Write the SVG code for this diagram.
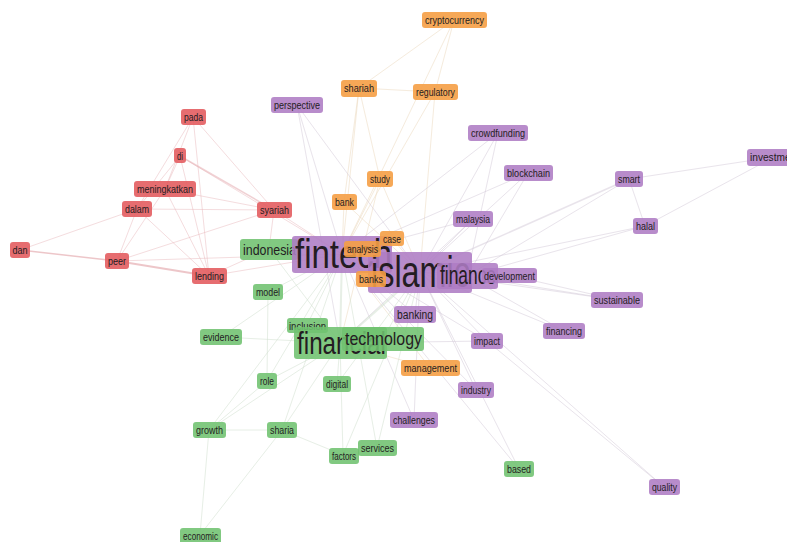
<svg xmlns="http://www.w3.org/2000/svg" width="787" height="542" viewBox="0 0 787 542">
<style>
text{font-family:"Liberation Sans",Arial,sans-serif;fill:#241c22}
.s{font-size:10.5px}
.r{fill:#e35d60;fill-opacity:.9}
.g{fill:#6fc16f;fill-opacity:.88}
.p{fill:#ae7cc4;fill-opacity:.88}
.o{fill:#f59f45;fill-opacity:.9}
.er line{stroke:#e8b4b8;stroke-width:1;opacity:.45}
.eo line{stroke:#eedcc2;stroke-width:1;opacity:.55}
.ep line{stroke:#d4cad9;stroke-width:1;opacity:.5}
.eg line{stroke:#d4e2d2;stroke-width:1;opacity:.55}
</style>
<rect width="787" height="542" fill="#ffffff"/>
<g id="connectors">
<g class="er">
<line x1="20" y1="250" x2="117" y2="261" style="stroke-width:1.5;opacity:.75"/>
<line x1="117" y1="261" x2="209" y2="276" style="stroke-width:2;opacity:.75"/>
<line x1="20" y1="250" x2="137" y2="209"/>
<line x1="193" y1="117" x2="274" y2="210"/>
<line x1="180" y1="156" x2="274" y2="210" style="stroke-width:1.5;opacity:.6"/>
<line x1="193" y1="117" x2="165" y2="189"/>
<line x1="180" y1="156" x2="165" y2="189"/>
<line x1="180" y1="156" x2="209" y2="276"/>
<line x1="193" y1="117" x2="209" y2="276"/>
<line x1="165" y1="189" x2="274" y2="210"/>
<line x1="137" y1="209" x2="274" y2="210"/>
<line x1="165" y1="189" x2="209" y2="276"/>
<line x1="137" y1="209" x2="209" y2="276"/>
<line x1="137" y1="209" x2="117" y2="261"/>
<line x1="117" y1="261" x2="274" y2="210"/>
<line x1="274" y1="210" x2="342" y2="254"/>
<line x1="274" y1="210" x2="269" y2="249"/>
<line x1="209" y1="276" x2="342" y2="254"/>
<line x1="117" y1="261" x2="342" y2="254"/>
<line x1="209" y1="276" x2="269" y2="249"/>
<line x1="180" y1="156" x2="137" y2="209"/>
<line x1="193" y1="117" x2="137" y2="209"/>
<line x1="165" y1="189" x2="117" y2="261"/>
<line x1="180" y1="156" x2="342" y2="254"/>
</g>
<g class="eo">
<line x1="454" y1="20" x2="359" y2="88"/>
<line x1="454" y1="20" x2="435" y2="92"/>
<line x1="359" y1="88" x2="435" y2="92"/>
<line x1="359" y1="88" x2="380" y2="179"/>
<line x1="359" y1="88" x2="342" y2="254"/>
<line x1="435" y1="92" x2="342" y2="254"/>
<line x1="435" y1="92" x2="420" y2="272"/>
<line x1="380" y1="179" x2="342" y2="254"/>
<line x1="380" y1="179" x2="420" y2="272"/>
<line x1="344" y1="202" x2="420" y2="272"/>
<line x1="344" y1="202" x2="342" y2="254"/>
<line x1="392" y1="238" x2="420" y2="272"/>
<line x1="430" y1="368" x2="342" y2="254"/>
<line x1="430" y1="368" x2="340" y2="343"/>
<line x1="359" y1="88" x2="344" y2="202"/>
<line x1="454" y1="20" x2="342" y2="254"/>
<line x1="380" y1="179" x2="340" y2="343"/>
</g>
<g class="ep">
<line x1="297" y1="105" x2="342" y2="254"/>
<line x1="297" y1="105" x2="420" y2="272"/>
<line x1="297" y1="105" x2="340" y2="343"/>
<line x1="498" y1="133" x2="342" y2="254"/>
<line x1="498" y1="133" x2="420" y2="272"/>
<line x1="528" y1="173" x2="342" y2="254"/>
<line x1="528" y1="173" x2="420" y2="272"/>
<line x1="473" y1="219" x2="420" y2="272"/>
<line x1="473" y1="219" x2="342" y2="254"/>
<line x1="629" y1="179" x2="774" y2="157"/>
<line x1="645" y1="226" x2="774" y2="157"/>
<line x1="629" y1="179" x2="645" y2="226"/>
<line x1="629" y1="179" x2="420" y2="272" style="stroke-width:1.5"/>
<line x1="629" y1="179" x2="467" y2="276"/>
<line x1="645" y1="226" x2="420" y2="272"/>
<line x1="645" y1="226" x2="467" y2="276"/>
<line x1="617" y1="300" x2="467" y2="276"/>
<line x1="617" y1="300" x2="420" y2="272"/>
<line x1="617" y1="300" x2="509" y2="275"/>
<line x1="564" y1="331" x2="420" y2="272"/>
<line x1="564" y1="331" x2="467" y2="276"/>
<line x1="487" y1="341" x2="420" y2="272"/>
<line x1="487" y1="341" x2="342" y2="254"/>
<line x1="664" y1="487" x2="420" y2="272"/>
<line x1="664" y1="487" x2="487" y2="341"/>
<line x1="476" y1="390" x2="420" y2="272"/>
<line x1="476" y1="390" x2="342" y2="254"/>
<line x1="414" y1="420" x2="342" y2="254"/>
<line x1="414" y1="420" x2="420" y2="272"/>
<line x1="415" y1="314" x2="420" y2="272"/>
<line x1="415" y1="314" x2="342" y2="254"/>
<line x1="509" y1="275" x2="420" y2="272"/>
<line x1="519" y1="469" x2="420" y2="272"/>
<line x1="519" y1="469" x2="342" y2="254"/>
<line x1="342" y1="254" x2="420" y2="272" style="stroke-width:2"/>
<line x1="498" y1="133" x2="467" y2="276"/>
<line x1="528" y1="173" x2="467" y2="276"/>
<line x1="473" y1="219" x2="340" y2="343"/>
<line x1="487" y1="341" x2="340" y2="343"/>
</g>
<g class="eg">
<line x1="200" y1="535" x2="209" y2="430"/>
<line x1="200" y1="535" x2="282" y2="430"/>
<line x1="209" y1="430" x2="340" y2="343"/>
<line x1="209" y1="430" x2="342" y2="254"/>
<line x1="282" y1="430" x2="343" y2="455"/>
<line x1="282" y1="430" x2="340" y2="343"/>
<line x1="282" y1="430" x2="342" y2="254"/>
<line x1="221" y1="337" x2="342" y2="254"/>
<line x1="221" y1="337" x2="340" y2="343"/>
<line x1="267" y1="381" x2="340" y2="343"/>
<line x1="267" y1="381" x2="342" y2="254"/>
<line x1="268" y1="292" x2="342" y2="254"/>
<line x1="268" y1="292" x2="267" y2="381"/>
<line x1="337" y1="384" x2="340" y2="343"/>
<line x1="337" y1="384" x2="420" y2="272"/>
<line x1="343" y1="455" x2="340" y2="343"/>
<line x1="377" y1="448" x2="342" y2="254"/>
<line x1="377" y1="448" x2="420" y2="272"/>
<line x1="343" y1="455" x2="420" y2="272"/>
<line x1="269" y1="249" x2="420" y2="272"/>
<line x1="307" y1="325" x2="342" y2="254"/>
<line x1="383" y1="339" x2="420" y2="272"/>
<line x1="340" y1="343" x2="420" y2="272" style="stroke-width:2"/>
<line x1="340" y1="343" x2="342" y2="254" style="stroke-width:2"/>
<line x1="209" y1="430" x2="282" y2="430"/>
<line x1="269" y1="249" x2="340" y2="343"/>
<line x1="209" y1="430" x2="267" y2="381"/>
</g>
</g>
<g id="n-pada"><rect class="r" x="181" y="109" width="25" height="16" rx="3"/><text class="s" x="184" y="121" textLength="19" lengthAdjust="spacingAndGlyphs">pada</text></g>
<g id="n-di"><rect class="r" x="174" y="148" width="12" height="15" rx="3"/><text class="s" x="177" y="159.5" textLength="6" lengthAdjust="spacingAndGlyphs">di</text></g>
<g id="n-meningkatkan"><rect class="r" x="134" y="181" width="62" height="16" rx="3"/><text class="s" x="137" y="193" textLength="56" lengthAdjust="spacingAndGlyphs">meningkatkan</text></g>
<g id="n-dalam"><rect class="r" x="122" y="201" width="30" height="16" rx="3"/><text class="s" x="125" y="213" textLength="24" lengthAdjust="spacingAndGlyphs">dalam</text></g>
<g id="n-syariah"><rect class="r" x="257" y="202" width="35" height="16" rx="3"/><text class="s" x="260" y="214" textLength="29" lengthAdjust="spacingAndGlyphs">syariah</text></g>
<g id="n-dan"><rect class="r" x="10" y="242" width="20" height="16" rx="3"/><text class="s" x="12.5" y="254" textLength="15" lengthAdjust="spacingAndGlyphs">dan</text></g>
<g id="n-peer"><rect class="r" x="105" y="253" width="24" height="16" rx="3"/><text class="s" x="108" y="265" textLength="18" lengthAdjust="spacingAndGlyphs">peer</text></g>
<g id="n-lending"><rect class="r" x="192" y="268" width="35" height="16" rx="3"/><text class="s" x="195" y="280" textLength="29" lengthAdjust="spacingAndGlyphs">lending</text></g>
<g id="n-cryptocurrency"><rect class="o" x="422" y="12" width="65" height="16" rx="3"/><text class="s" x="425" y="24" textLength="59" lengthAdjust="spacingAndGlyphs">cryptocurrency</text></g>
<g id="n-shariah"><rect class="o" x="341" y="80" width="36" height="17" rx="3"/><text class="s" x="344" y="92" textLength="30" lengthAdjust="spacingAndGlyphs">shariah</text></g>
<g id="n-regulatory"><rect class="o" x="413" y="84" width="45" height="16" rx="3"/><text class="s" x="416" y="96" textLength="39" lengthAdjust="spacingAndGlyphs">regulatory</text></g>
<g id="n-study"><rect class="o" x="367" y="171" width="26" height="16" rx="3"/><text class="s" x="370" y="183" textLength="20" lengthAdjust="spacingAndGlyphs">study</text></g>
<g id="n-bank"><rect class="o" x="332" y="194" width="25" height="16" rx="3"/><text class="s" x="335" y="206" textLength="19" lengthAdjust="spacingAndGlyphs">bank</text></g>
<g id="n-perspective"><rect class="p" x="271" y="97" width="52" height="16" rx="3"/><text class="s" x="274" y="109" textLength="46" lengthAdjust="spacingAndGlyphs">perspective</text></g>
<g id="n-crowdfunding"><rect class="p" x="468" y="125" width="60" height="16" rx="3"/><text class="s" x="471" y="137" textLength="54" lengthAdjust="spacingAndGlyphs">crowdfunding</text></g>
<g id="n-blockchain"><rect class="p" x="504" y="165" width="49" height="16" rx="3"/><text class="s" x="507" y="177" textLength="43" lengthAdjust="spacingAndGlyphs">blockchain</text></g>
<g id="n-malaysia"><rect class="p" x="453" y="211" width="40" height="16" rx="3"/><text class="s" x="456" y="223" textLength="34" lengthAdjust="spacingAndGlyphs">malaysia</text></g>
<g id="n-smart"><rect class="p" x="615" y="171" width="28" height="16" rx="3"/><text class="s" x="618" y="183" textLength="22" lengthAdjust="spacingAndGlyphs">smart</text></g>
<g id="n-halal"><rect class="p" x="633" y="218" width="25" height="16" rx="3"/><text class="s" x="636" y="230" textLength="19" lengthAdjust="spacingAndGlyphs">halal</text></g>
<g id="n-investment"><rect class="p" x="747" y="149" width="55" height="17" rx="3"/><text class="s" x="750" y="161" textLength="49" lengthAdjust="spacingAndGlyphs">investment</text></g>
<g id="n-sustainable"><rect class="p" x="591" y="292" width="52" height="16" rx="3"/><text class="s" x="594" y="304" textLength="46" lengthAdjust="spacingAndGlyphs">sustainable</text></g>
<g id="n-financing"><rect class="p" x="543" y="323" width="42" height="16" rx="3"/><text class="s" x="546" y="335" textLength="36" lengthAdjust="spacingAndGlyphs">financing</text></g>
<g id="n-impact"><rect class="p" x="471" y="333" width="32" height="16" rx="3"/><text class="s" x="474" y="345" textLength="26" lengthAdjust="spacingAndGlyphs">impact</text></g>
<g id="n-banking"><rect class="p" x="394" y="306" width="42" height="17" rx="3"/><text x="397" y="319" font-size="12" textLength="36" lengthAdjust="spacingAndGlyphs">banking</text></g>
<g id="n-industry"><rect class="p" x="458" y="382" width="36" height="16" rx="3"/><text class="s" x="461" y="394" textLength="30" lengthAdjust="spacingAndGlyphs">industry</text></g>
<g id="n-challenges"><rect class="p" x="390" y="412" width="48" height="16" rx="3"/><text class="s" x="393" y="424" textLength="42" lengthAdjust="spacingAndGlyphs">challenges</text></g>
<g id="n-quality"><rect class="p" x="649" y="479" width="31" height="16" rx="3"/><text class="s" x="652" y="491" textLength="25" lengthAdjust="spacingAndGlyphs">quality</text></g>
<g id="n-management"><rect class="o" x="401" y="360" width="59" height="16" rx="3"/><text class="s" x="404" y="372" textLength="53" lengthAdjust="spacingAndGlyphs">management</text></g>
<g id="n-model"><rect class="g" x="253" y="284" width="30" height="16" rx="3"/><text class="s" x="256" y="296" textLength="24" lengthAdjust="spacingAndGlyphs">model</text></g>
<g id="n-evidence"><rect class="g" x="200" y="329" width="42" height="16" rx="3"/><text class="s" x="203" y="341" textLength="36" lengthAdjust="spacingAndGlyphs">evidence</text></g>
<g id="n-role"><rect class="g" x="257" y="373" width="20" height="16" rx="3"/><text class="s" x="260" y="385" textLength="14" lengthAdjust="spacingAndGlyphs">role</text></g>
<g id="n-digital"><rect class="g" x="323" y="376" width="28" height="16" rx="3"/><text class="s" x="326" y="388" textLength="22" lengthAdjust="spacingAndGlyphs">digital</text></g>
<g id="n-growth"><rect class="g" x="193" y="422" width="33" height="16" rx="3"/><text class="s" x="196" y="434" textLength="27" lengthAdjust="spacingAndGlyphs">growth</text></g>
<g id="n-sharia"><rect class="g" x="267" y="422" width="30" height="16" rx="3"/><text class="s" x="270" y="434" textLength="24" lengthAdjust="spacingAndGlyphs">sharia</text></g>
<g id="n-services"><rect class="g" x="358" y="440" width="39" height="16" rx="3"/><text class="s" x="361" y="452" textLength="33" lengthAdjust="spacingAndGlyphs">services</text></g>
<g id="n-factors"><rect class="g" x="329" y="448" width="30" height="16" rx="3"/><text class="s" x="332" y="460" textLength="24" lengthAdjust="spacingAndGlyphs">factors</text></g>
<g id="n-based"><rect class="g" x="504" y="461" width="30" height="16" rx="3"/><text class="s" x="507" y="473" textLength="24" lengthAdjust="spacingAndGlyphs">based</text></g>
<g id="n-economic"><rect class="g" x="180" y="528" width="41" height="16" rx="3"/><text class="s" x="183" y="540" textLength="35" lengthAdjust="spacingAndGlyphs">economic</text></g>
<g id="n-indonesia"><rect class="g" x="240" y="239" width="58" height="21" rx="3"/><text x="243" y="255" font-size="15" textLength="53" lengthAdjust="spacingAndGlyphs">indonesia</text></g>
<g id="n-fintech"><rect class="p" x="292" y="236" width="100" height="37" rx="3"/><text x="295" y="268" font-size="40" textLength="97" lengthAdjust="spacingAndGlyphs">fintech</text></g>
<g id="n-islamic"><rect class="p" x="368" y="252" width="104" height="41" rx="3"/><text x="371" y="287" font-size="45" textLength="99" lengthAdjust="spacingAndGlyphs">islamic</text></g>
<g id="n-finance"><rect class="p" x="437" y="263" width="61" height="26" rx="3"/><text x="440" y="284" font-size="25" textLength="56" lengthAdjust="spacingAndGlyphs">finance</text></g>
<g id="n-development"><rect class="p" x="482" y="268" width="55" height="15" rx="3"/><text class="s" x="484" y="279.5" textLength="51" lengthAdjust="spacingAndGlyphs">development</text></g>
<g id="n-case"><rect class="o" x="380" y="231" width="24" height="15" rx="3"/><text class="s" x="383" y="242.5" textLength="18" lengthAdjust="spacingAndGlyphs">case</text></g>
<g id="n-analysis"><rect class="o" x="344" y="241" width="37" height="16" rx="3"/><text class="s" x="347" y="253" textLength="31" lengthAdjust="spacingAndGlyphs">analysis</text></g>
<g id="n-banks"><rect class="o" x="356" y="271" width="30" height="16" rx="3"/><text class="s" x="359" y="283" textLength="24" lengthAdjust="spacingAndGlyphs">banks</text></g>
<g id="n-inclusion"><rect class="g" x="287" y="318" width="41" height="15" rx="3"/><text class="s" x="289" y="329.5" textLength="37" lengthAdjust="spacingAndGlyphs">inclusion</text></g>
<g id="n-financial"><rect class="g" x="294" y="327" width="93" height="32" rx="3"/><text x="297" y="354" font-size="32" textLength="89" lengthAdjust="spacingAndGlyphs">financial</text></g>
<g id="n-technology"><rect class="g" x="342" y="327" width="82" height="24" rx="3"/><text x="345" y="345" font-size="19" textLength="77" lengthAdjust="spacingAndGlyphs">technology</text></g>
</svg>
